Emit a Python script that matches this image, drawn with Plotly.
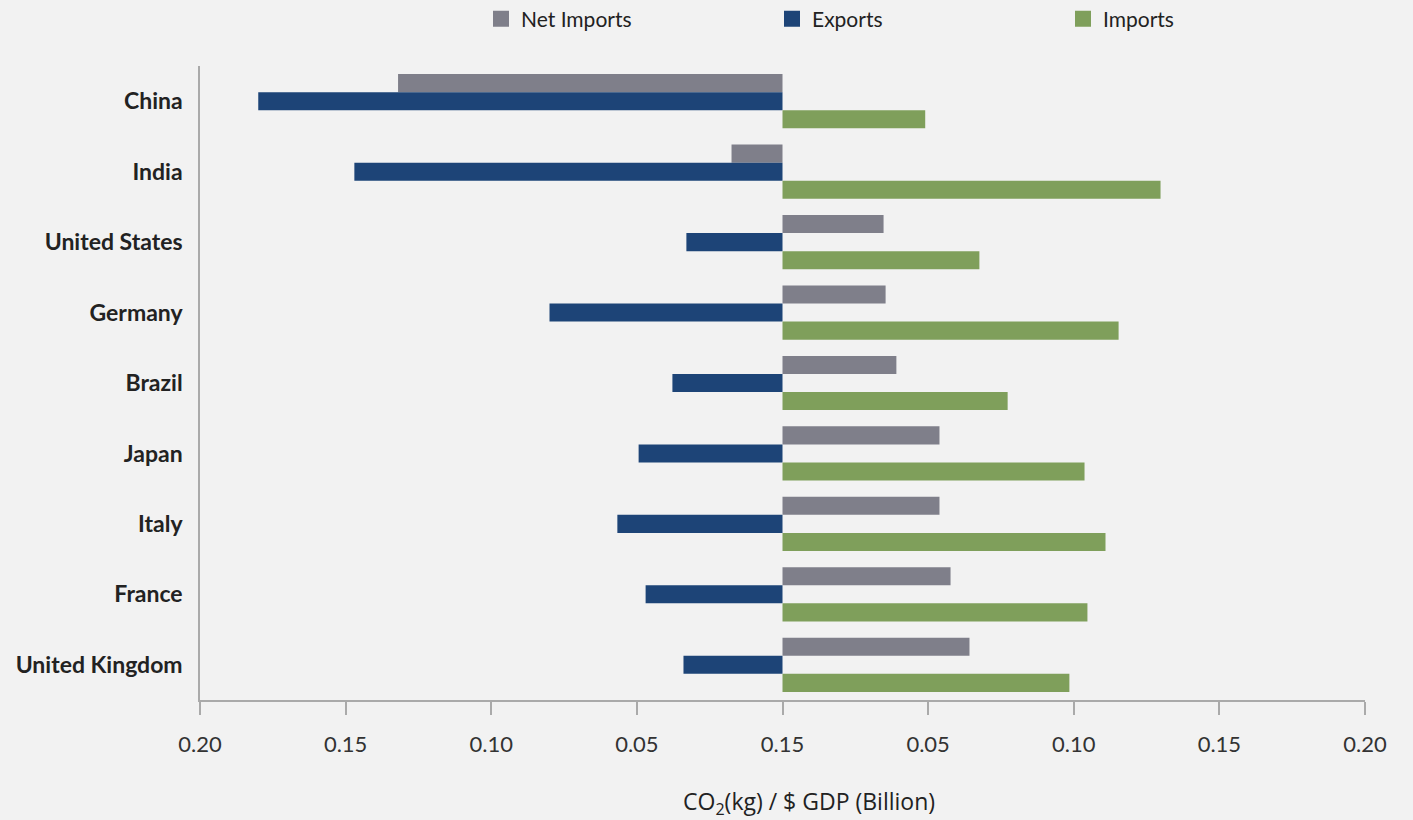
import plotly.graph_objects as go

countries = ["China", "India", "United States", "Germany", "Brazil", "Japan", "Italy", "France", "United Kingdom"]
net_imports = [-0.132, -0.0175, 0.0347, 0.0354, 0.0391, 0.0539, 0.0539, 0.0577, 0.0642]
exports = [-0.180, -0.147, -0.033, -0.080, -0.0378, -0.0494, -0.0567, -0.047, -0.034]
imports = [0.049, 0.1298, 0.0676, 0.1154, 0.0773, 0.1037, 0.1109, 0.1047, 0.0985]

series_names = ["Net Imports", "Exports", "Imports"]
series_colors = ["#7f7f8a", "#1d4477", "#7f9f5b"]
series_values = [net_imports, exports, imports]

tick_vals = [-0.20, -0.15, -0.10, -0.05, 0.0, 0.05, 0.10, 0.15, 0.20]
tick_text = ["0.20", "0.15", "0.10", "0.05", "0.15", "0.05", "0.10", "0.15", "0.20"]
x_title = "CO<sub>2</sub>(kg) / $ GDP (Billion)"

fig = go.Figure()
for name, color, vals in zip(series_names, series_colors, series_values):
    fig.add_trace(go.Bar(name=name, y=countries, x=vals, orientation="h",
                         marker=dict(color=color, line=dict(width=0)), showlegend=False))
# legend-only entries with larger square swatches
for name, color in zip(series_names, series_colors):
    fig.add_trace(go.Scatter(name=name, x=[None], y=[None], mode="markers",
                             marker=dict(symbol="square", size=18, color=color),
                             showlegend=True))

fig.update_layout(
    width=1413, height=820,
    paper_bgcolor="#f2f2f2", plot_bgcolor="#f2f2f2",
    barmode="group", bargap=0.23, bargroupgap=0,
    margin=dict(l=200, r=48, t=66, b=120, autoexpand=False),
    font=dict(family="Open Sans", color="#333333"),
    legend=dict(orientation="h", x=(481 - 200) / 1165, xanchor="left",
                y=1 + (66 - 19) / 634, yanchor="middle",
                entrywidth=246, entrywidthmode="pixels", traceorder="normal",
                font=dict(size=21, color="#222222", family="Lato"), bgcolor="rgba(0,0,0,0)"),
    xaxis=dict(range=[-0.2, 0.2], tickvals=tick_vals, ticktext=tick_text,
               showgrid=False, zeroline=False, showline=True, linecolor="#aaaaaa", linewidth=1.5,
               ticks="outside", ticklen=13, tickcolor="#aaaaaa", tickwidth=1.5,
               ticklabelstandoff=11,
               tickfont=dict(size=22, color="#333333", family="Lato")),
    yaxis=dict(autorange="reversed", showgrid=False, zeroline=False, showline=True,
               linecolor="#aaaaaa", linewidth=1.5, ticks="", ticklabelstandoff=11,
               tickfont=dict(size=23, color="#222222", family="Lato", weight="bold")),
    annotations=[dict(text=x_title, xref="paper", yref="paper",
                      x=(809 - 200) / 1165, y=-(803 - 700) / 634,
                      xanchor="center", yanchor="middle", showarrow=False,
                      font=dict(size=23, color="#222222", family="Open Sans"))],
)

fig.write_html("out.html", config={"displayModeBar": False},
               post_script="document.body.style.margin='0';")
